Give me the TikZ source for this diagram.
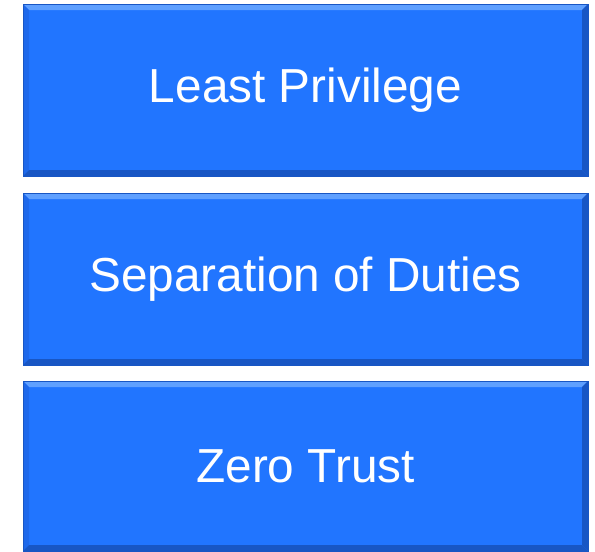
\documentclass[tikz,border=0pt]{standalone}
\usepackage{fontspec}
\setmainfont{Liberation Sans}

\definecolor{boxblue}{RGB}{33,117,255}
\definecolor{bevellight}{RGB}{95,160,255}
\definecolor{bevelmid}{RGB}{30,105,235}
\definecolor{beveldark}{RGB}{24,86,196}

\tikzset{
    bevel/.style={
        path picture={
            \fill[bevellight] (path picture bounding box.north west) -- (path picture bounding box.north east)
                -- ([shift={(-4.5pt,-4.5pt)}]path picture bounding box.north east) -- ([shift={(4.5pt,-4.5pt)}]path picture bounding box.north west) -- cycle;
            \fill[bevelmid] (path picture bounding box.north west) -- ([shift={(4.5pt,-4.5pt)}]path picture bounding box.north west)
                -- ([shift={(4.5pt,4.5pt)}]path picture bounding box.south west) -- (path picture bounding box.south west) -- cycle;
            \fill[beveldark] (path picture bounding box.north east) -- ([shift={(-4.5pt,-4.5pt)}]path picture bounding box.north east)
                -- ([shift={(-4.5pt,4.5pt)}]path picture bounding box.south east) -- (path picture bounding box.south east) -- cycle;
            \fill[beveldark] (path picture bounding box.south west) -- ([shift={(4.5pt,4.5pt)}]path picture bounding box.south west)
                -- ([shift={(-4.5pt,4.5pt)}]path picture bounding box.south east) -- (path picture bounding box.south east) -- cycle;
        }
    },
    principle/.style={draw=beveldark, line width=0.5pt, rectangle, fill=boxblue, bevel, text=white,
        minimum width=423.75pt, minimum height=129pt, font=\fontsize{35.8}{42}\selectfont}
}

\begin{document}
\begin{tikzpicture}[x=0.75pt, y=-0.75pt]
    \useasboundingbox (0, 0) rectangle (595, 551);
    % boxes
    \node[principle] (least) at (305.5, 90) {\raisebox{-2pt}{Least Privilege}};
    \node[principle] (separation) at (305.5, 279) {\raisebox{-2pt}{Separation of Duties}};
    \node[principle, minimum height=127.5pt] (zero) at (305.5, 466) {\raisebox{-2pt}{Zero Trust}};
\end{tikzpicture}
\end{document}
